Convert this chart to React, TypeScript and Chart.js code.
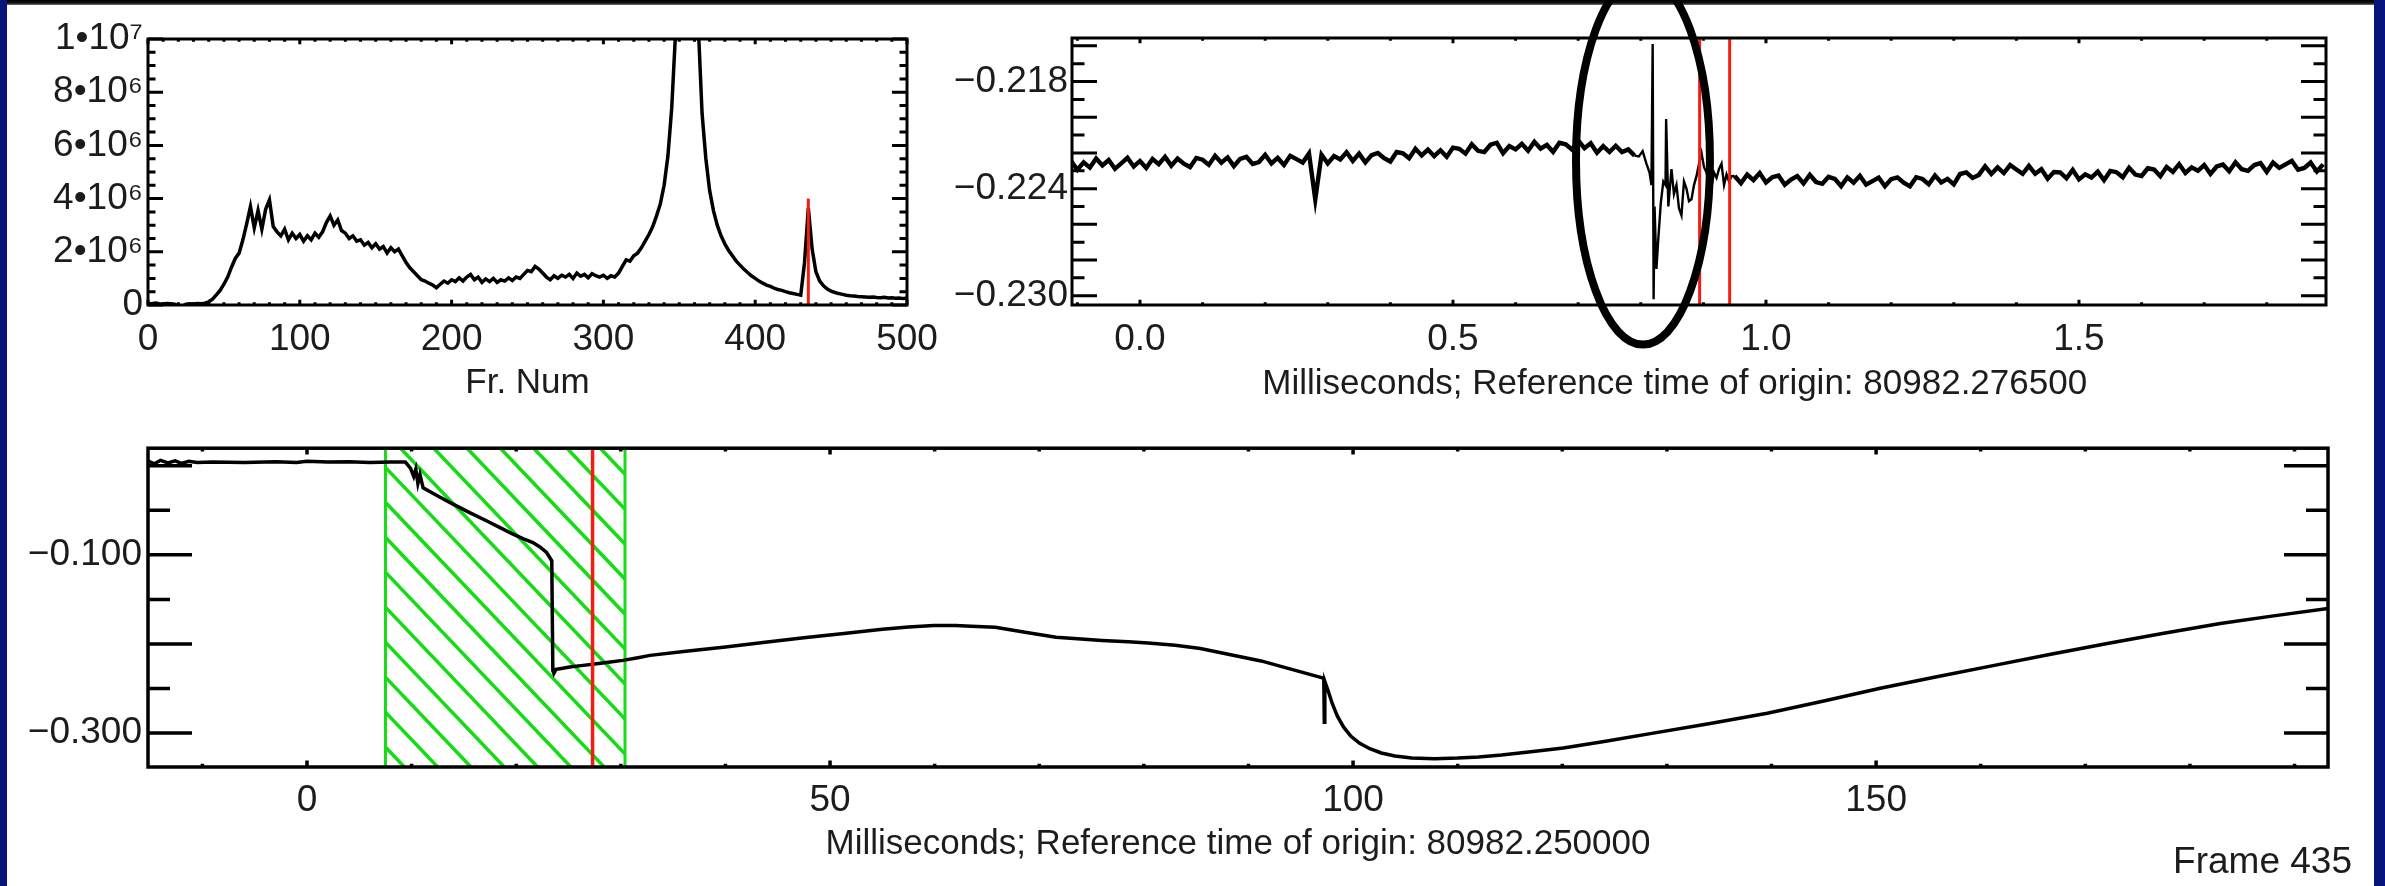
import React, { useEffect, useRef } from "react";
import { Chart, registerables } from "chart.js";

Chart.register(...registerables);

const FONT = '"Liberation Sans", Arial, Helvetica, sans-serif';
const TICK_SIZE = 37;
const TITLE_SIZE = 35;
const INK = "#1c1c1c";
const RED = "#f21d12";
const GREEN = "#16dc16";
const NAVY = "#07147a";

// ---------- Panel 1: histogram vs frame number (values in units of 1e6) ----------
const p1Start = 0;
const p1Step = 2.5;
const p1Values = [
  0.06, 0.05, 0.07, 0.05, 0.04, 0.06, 0.05, 0.03, -0.02, -0.06,
  0.03, 0.05, 0.04, 0.06, 0.05, 0.07, 0.12, 0.22, 0.38, 0.55,
  0.78, 1.05, 1.42, 1.75, 1.95, 2.45, 3.05, 3.7, 2.9, 3.55,
  2.85, 3.6, 3.95, 2.95, 2.75, 2.6, 2.85, 2.45, 2.7, 2.5,
  2.65, 2.4, 2.6, 2.45, 2.7, 2.55, 2.75, 3.1, 3.35, 3.0,
  3.2, 2.8, 2.7, 2.5, 2.6, 2.4, 2.45, 2.25, 2.35, 2.15,
  2.3, 2.1, 2.2, 1.95, 2.15, 2.0, 2.1, 1.85, 1.6, 1.4,
  1.25, 1.1, 0.95, 0.9, 0.82, 0.75, 0.65, 0.78, 0.9, 0.82,
  0.95, 0.88, 1.02, 0.9, 1.05, 1.15, 0.95, 1.05, 0.85, 0.98,
  0.88, 1.0, 0.85, 0.95, 0.9, 1.02, 0.92, 1.05, 1.0, 1.15,
  1.3, 1.25, 1.45, 1.35, 1.2, 1.05, 0.95, 1.1, 1.0, 1.12,
  1.05, 1.15, 1.0, 1.2, 1.08, 1.15, 1.02, 1.18, 1.1, 1.05,
  1.12, 1.0, 1.1, 1.05, 1.2, 1.45, 1.7, 1.65, 1.85, 1.95,
  2.15, 2.4, 2.65, 2.95, 3.35, 3.8, 4.5, 5.6, 7.4, 10.2,
  13.0, 15.5, 17.0, 16.0, 13.5, 10.5, 7.2, 5.5, 4.3, 3.55,
  3.0, 2.6, 2.3, 2.05, 1.85, 1.65, 1.5, 1.35, 1.22, 1.1,
  1.0, 0.9, 0.82, 0.75, 0.7, 0.63, 0.58, 0.55, 0.5, 0.46,
  0.43, 0.4, 0.37, 1.6, 3.65, 2.1, 1.25, 0.9, 0.72, 0.6,
  0.52, 0.47, 0.43, 0.4, 0.37, 0.35, 0.34, 0.32, 0.31, 0.3,
  0.29, 0.3, 0.28, 0.27, 0.29, 0.26, 0.27, 0.25, 0.26, 0.24,
  0.25,
];
const p1Marker = 435;
const p1MarkerTop = 4.0;
const p1XLabels = [0, 100, 200, 300, 400, 500];
const p1YLabels = [0, 2, 4, 6, 8, 10];

// ---------- Panel 2: zoomed trace (ms) ----------
const p2Step = 0.01;
const p2PreStart = -0.11;
const p2Pre = [
  -0.22245, -0.22294, -0.22253, -0.22282, -0.22231, -0.2227, -0.2224, -0.22289, -0.22258, -0.22227,
  -0.22276, -0.22245, -0.22284, -0.22234, -0.22263, -0.22222, -0.22271, -0.22231, -0.2226, -0.22279,
  -0.22228, -0.22238, -0.22267, -0.22216, -0.22255, -0.22225, -0.22274, -0.22233, -0.22222, -0.22262,
  -0.22251, -0.2221, -0.22259, -0.22228, -0.22267, -0.22216, -0.22235, -0.22254, -0.22203, -0.2246,
  -0.2221, -0.22259, -0.22218, -0.22237, -0.22196, -0.22245, -0.22204, -0.22253, -0.22212, -0.222,
  -0.22229, -0.22248, -0.22195, -0.22202, -0.2223, -0.22177, -0.22214, -0.22181, -0.22218, -0.22185,
  -0.22222, -0.2217, -0.22177, -0.22204, -0.22151, -0.22188, -0.22195, -0.22154, -0.22143, -0.22202,
  -0.22161, -0.2218, -0.22149, -0.22188, -0.22137, -0.22176, -0.22155, -0.22194, -0.22143, -0.22152,
  -0.22181, -0.2213, -0.22173, -0.22146, -0.22199, -0.22162, -0.22195, -0.2216, -0.22195, -0.2218,
  -0.22215,
];
const p2SpikeX = [
  0.797, 0.803, 0.809, 0.814, 0.817, 0.819, 0.8205, 0.822, 0.825, 0.828,
  0.832, 0.836, 0.8395, 0.8405, 0.844, 0.849, 0.853, 0.857, 0.861, 0.865,
  0.869, 0.873, 0.877, 0.881, 0.885, 0.889, 0.893, 0.897, 0.901, 0.905,
  0.909, 0.913, 0.917, 0.921, 0.925, 0.929, 0.933, 0.937, 0.941, 0.945,
];
const p2SpikeY = [
  -0.2222, -0.2219, -0.2226, -0.2231, -0.2238, -0.2159, -0.2302, -0.225, -0.2285, -0.2268,
  -0.2248, -0.2236, -0.2238, -0.2201, -0.225, -0.2229, -0.2243, -0.2238, -0.2251, -0.2255,
  -0.2236, -0.224, -0.2247, -0.2246, -0.2238, -0.2233, -0.2226, -0.222, -0.2228, -0.2231,
  -0.2236, -0.2239, -0.2231, -0.2234, -0.2229, -0.2226, -0.2238, -0.2232, -0.2236, -0.2233,
];
const p2PostStart = 0.95;
const p2Post = [
  -0.22329, -0.2237, -0.22321, -0.22352, -0.22313, -0.22365, -0.22336, -0.22327, -0.22378, -0.22349,
  -0.2233, -0.22371, -0.22322, -0.22363, -0.22373, -0.22334, -0.22345, -0.22386, -0.22337, -0.22367,
  -0.22328, -0.22378, -0.22358, -0.22338, -0.22387, -0.22347, -0.22337, -0.22367, -0.22387, -0.22336,
  -0.22346, -0.22376, -0.22326, -0.22365, -0.22345, -0.22376, -0.22318, -0.22309, -0.2234, -0.22323,
  -0.22275, -0.22318, -0.22281, -0.22313, -0.22268, -0.22293, -0.22317, -0.22272, -0.22317, -0.22291,
  -0.22344, -0.22307, -0.22309, -0.22342, -0.22295, -0.22348, -0.2232, -0.22338, -0.22305, -0.22353,
  -0.22301, -0.22308, -0.22336, -0.22283, -0.22321, -0.22329, -0.22286, -0.22293, -0.22331, -0.22278,
  -0.22306, -0.22263, -0.22312, -0.22281, -0.223, -0.22268, -0.22317, -0.22276, -0.22265, -0.22303,
  -0.22252, -0.22291, -0.223, -0.22268, -0.22257, -0.22306, -0.22254, -0.22284, -0.22264, -0.22244,
  -0.22294, -0.22284, -0.22254, -0.22304, -0.22264,
];
const p2Markers = [0.894, 0.942];
const p2XLabels = [0, 0.5, 1.0, 1.5];
const p2YLabels = [-0.218, -0.224, -0.23];
const p2EllipseCenterX = 0.8035;
const p2EllipseCenterY = -0.22242;
const p2EllipseRadiusX = 0.107;
const p2EllipseRadiusY = 0.01032;

// ---------- Panel 3: full trace (ms) ----------
const p3X = [
  -15.3, -14.6, -14.0, -13.3, -12.6, -12.0, -11.3, -10.5, -9, -6,
  -3, -1, 0, 2, 4, 6, 8, 9.4, 9.9, 10.2,
  10.4, 10.6, 10.8, 11.1, 12.5, 14.0, 15.6, 17.2, 18.5, 19.7,
  20.7, 21.6, 22.3, 22.9, 23.4, 23.5, 23.6, 23.8, 24.2, 25.1,
  26.4, 27.7, 29.0, 30.2, 31.5, 32.8, 36, 40, 43.8, 47.5,
  51.1, 55, 57.5, 59.9, 62, 63.5, 65.8, 68.5, 71.6, 74,
  76, 78.5, 80.4, 83, 85.4, 91.2, 96.9, 97.2, 97.25, 97.3,
  97.6, 98.0, 98.5, 99.1, 99.8, 100.6, 101.6, 102.7, 104, 105.6,
  107.8, 110, 112, 114.2, 117, 120.1, 124, 128.7, 134, 139.6,
  145, 150.4, 155.8, 161.3, 166.7, 172.1, 177.5, 182.9, 188, 193.2,
];
const p3Y = [
  0.006, 0.002, 0.006, 0.003, 0.0055, 0.0025, 0.005, 0.0035, 0.004, 0.0035,
  0.0045, 0.0035, 0.005, 0.004, 0.0045, 0.0035, 0.004, 0.004, -0.003, -0.012,
  -0.004, -0.02, -0.01, -0.0248, -0.034, -0.0434, -0.053, -0.062, -0.0698, -0.0769,
  -0.082, -0.0863, -0.0915, -0.0974, -0.1067, -0.2296, -0.233, -0.2285, -0.2277, -0.2259,
  -0.224, -0.2221, -0.2203, -0.2184, -0.2157, -0.2128, -0.2085, -0.2035, -0.198, -0.193,
  -0.1886, -0.1835, -0.181, -0.1793, -0.1793, -0.18, -0.1812, -0.1865, -0.1924, -0.1945,
  -0.196, -0.1975, -0.1988, -0.2015, -0.205, -0.219, -0.2374, -0.2385, -0.2877, -0.242,
  -0.252, -0.2665, -0.281, -0.2933, -0.3035, -0.3112, -0.3175, -0.3223, -0.3257, -0.328,
  -0.3287, -0.328, -0.3267, -0.3246, -0.321, -0.3168, -0.3095, -0.3, -0.2895, -0.2777,
  -0.264, -0.2497, -0.2368, -0.224, -0.2115, -0.1994, -0.188, -0.1771, -0.1685, -0.1603,
];
const p3HatchStart = 7.5;
const p3HatchEnd = 30.4;
const p3Marker = 27.3;
const p3XLabels = [0, 50, 100, 150];
const p3YLabels = [-0.1, -0.3];

// ---------- helpers ----------
function steps(start: number, end: number, step: number): number[] {
  const out: number[] = [];
  const n = Math.round((end - start) / step);
  for (let i = 0; i <= n; i++) out.push(+(start + i * step).toFixed(6));
  return out;
}

function minus(v: number, digits: number): string {
  return (v < 0 ? "\u2212" : "") + Math.abs(v).toFixed(digits);
}

type FrameSpec = {
  xMajor: number[];
  xMinor: number[];
  yMajor: number[];
  yMinor: number[];
  xLen: number;
  yLen: number;
  width: number;
};

function framePlugin(o: FrameSpec) {
  return {
    id: "idlFrame",
    afterDatasetsDraw(chart: any) {
      const { ctx, chartArea: a } = chart;
      const xs = chart.scales.x;
      const ys = chart.scales.y;
      ctx.save();
      ctx.strokeStyle = "#000";
      ctx.lineWidth = o.width;
      ctx.lineCap = "butt";
      ctx.beginPath();
      const xt = (v: number, len: number) => {
        const p = xs.getPixelForValue(v);
        if (p < a.left - 1 || p > a.right + 1) return;
        ctx.moveTo(p, a.bottom);
        ctx.lineTo(p, a.bottom - len);
        ctx.moveTo(p, a.top);
        ctx.lineTo(p, a.top + len);
      };
      const yt = (v: number, len: number) => {
        const p = ys.getPixelForValue(v);
        if (p < a.top - 1 || p > a.bottom + 1) return;
        ctx.moveTo(a.left, p);
        ctx.lineTo(a.left + len, p);
        ctx.moveTo(a.right, p);
        ctx.lineTo(a.right - len, p);
      };
      o.xMajor.forEach((v) => xt(v, o.xLen));
      o.xMinor.forEach((v) => xt(v, o.xLen / 2));
      o.yMajor.forEach((v) => yt(v, o.yLen));
      o.yMinor.forEach((v) => yt(v, o.yLen / 2));
      ctx.stroke();
      ctx.strokeRect(a.left, a.top, a.right - a.left, a.bottom - a.top);
      ctx.restore();
    },
  };
}

type AxisSpec = {
  xMin: number;
  xMax: number;
  yMin: number;
  yMax: number;
  xLabels: number[];
  yLabels: number[];
  xFmt: (v: number) => string;
  yFmt: (v: number) => string;
  yWidth: number;
  xHeight: number;
  padTop: number;
  padRight: number;
  title: string;
  titlePad: number;
  xLabelPad: number;
  yLabelPad: number;
};

function baseOptions(p: AxisSpec): any {
  const tickFont = { family: FONT, size: TICK_SIZE };
  const titleFont = { family: FONT, size: TITLE_SIZE };
  return {
    responsive: false,
    animation: false,
    events: [],
    devicePixelRatio: 1,
    layout: {
      autoPadding: false,
      padding: { top: p.padTop, right: p.padRight, left: 0, bottom: 0 },
    },
    plugins: { legend: { display: false }, tooltip: { enabled: false } },
    elements: { point: { radius: 0 }, line: { tension: 0 } },
    scales: {
      x: {
        type: "linear",
        min: p.xMin,
        max: p.xMax,
        bounds: "data",
        grid: { display: false, drawTicks: false },
        border: { display: false },
        ticks: {
          autoSkip: false,
          maxRotation: 0,
          minRotation: 0,
          padding: p.xLabelPad,
          color: INK,
          font: tickFont,
          callback: (v: number) => p.xFmt(Number(v)),
        },
        afterBuildTicks: (s: any) => {
          s.ticks = p.xLabels.map((v) => ({ value: v }));
        },
        afterFit: (s: any) => {
          s.height = p.xHeight;
        },
        title: {
          display: true,
          text: p.title,
          color: INK,
          font: titleFont,
          padding: { top: 0, bottom: p.titlePad },
        },
      },
      y: {
        type: "linear",
        min: p.yMin,
        max: p.yMax,
        bounds: "data",
        grid: { display: false, drawTicks: false },
        border: { display: false },
        ticks: {
          autoSkip: false,
          padding: p.yLabelPad,
          color: INK,
          font: tickFont,
          callback: (v: number) => p.yFmt(Number(v)),
        },
        afterBuildTicks: (s: any) => {
          s.ticks = p.yLabels.map((v) => ({ value: v }));
        },
        afterFit: (s: any) => {
          s.width = p.yWidth;
        },
      },
    },
  };
}

// ---------- Panel builders ----------
function makePanel1(): any {
  const data = p1Values.map((v, i) => ({ x: p1Start + i * p1Step, y: v }));
  const opts = baseOptions({
    xMin: 0,
    xMax: 500,
    yMin: 0,
    yMax: 10,
    xLabels: p1XLabels,
    yLabels: p1YLabels,
    xFmt: (v) => String(v),
    yFmt: (v) => (v === 0 ? "0" : v === 10 ? "1\u202210\u2077" : `${v}\u202210\u2076`),
    yWidth: 148,
    xHeight: 115,
    padTop: 39,
    padRight: 83,
    title: "Fr. Num",
    titlePad: 15.5,
    xLabelPad: 13,
    yLabelPad: 5,
  });
  return {
    type: "line",
    data: {
      datasets: [
        {
          data: [
            { x: p1Marker, y: 0 },
            { x: p1Marker, y: p1MarkerTop },
          ],
          borderColor: RED,
          borderWidth: 3,
          pointRadius: 0,
        },
        { data, borderColor: "#000", borderWidth: 3.5, pointRadius: 0 },
      ],
    },
    options: opts,
    plugins: [
      framePlugin({
        xMajor: steps(0, 500, 100),
        xMinor: steps(0, 500, 10),
        yMajor: steps(0, 10, 2),
        yMinor: steps(0, 10, 0.5),
        xLen: 5.3,
        yLen: 15,
        width: 3,
      }),
    ],
  };
}

function makePanel2(): any {
  const yMin = -0.23052;
  const yMax = -0.21556;
  const pre = p2Pre.map((v, i) => ({ x: +(p2PreStart + i * p2Step).toFixed(4), y: v }));
  const post = p2Post.map((v, i) => ({ x: +(p2PostStart + i * p2Step).toFixed(4), y: v }));
  const spike = [
    pre[pre.length - 1],
    ...p2SpikeX.map((x, i) => ({ x, y: p2SpikeY[i] })),
    post[0],
  ];
  const opts = baseOptions({
    xMin: -0.1086,
    xMax: 1.8946,
    yMin,
    yMax,
    xLabels: p2XLabels,
    yLabels: p2YLabels,
    xFmt: (v) => v.toFixed(1),
    yFmt: (v) => minus(v, 3),
    yWidth: 142,
    xHeight: 115,
    padTop: 38,
    padRight: 59,
    title: "Milliseconds; Reference time of origin: 80982.276500\u00a0\u00a0\u00a0\u00a0\u00a0",
    titlePad: 14.3,
    xLabelPad: 13,
    yLabelPad: 4,
  });
  const ellipsePlugin = {
    id: "ellipseMark",
    afterDraw(chart: any) {
      const { ctx } = chart;
      const xs = chart.scales.x;
      const ys = chart.scales.y;
      const cx = xs.getPixelForValue(p2EllipseCenterX);
      const cy = ys.getPixelForValue(p2EllipseCenterY);
      const rx = Math.abs(xs.getPixelForValue(p2EllipseCenterX + p2EllipseRadiusX) - cx);
      const ry = Math.abs(ys.getPixelForValue(p2EllipseCenterY + p2EllipseRadiusY) - cy);
      ctx.save();
      ctx.beginPath();
      ctx.ellipse(cx, cy, rx, ry, 0, 0, Math.PI * 2);
      ctx.lineWidth = 8;
      ctx.strokeStyle = "#000";
      ctx.stroke();
      ctx.restore();
    },
  };
  return {
    type: "line",
    data: {
      datasets: [
        ...p2Markers.map((m) => ({
          data: [
            { x: m, y: yMin },
            { x: m, y: yMax },
          ],
          borderColor: RED,
          borderWidth: 3,
          pointRadius: 0,
        })),
        { data: spike, borderColor: "#000", borderWidth: 2.4, pointRadius: 0 },
        { data: pre, borderColor: "#000", borderWidth: 4.4, pointRadius: 0 },
        { data: post, borderColor: "#000", borderWidth: 4.4, pointRadius: 0 },
      ],
    },
    options: opts,
    plugins: [
      framePlugin({
        xMajor: steps(0, 1.5, 0.5),
        xMinor: steps(-0.1, 1.8, 0.1),
        yMajor: steps(-0.23, -0.216, 0.002),
        yMinor: steps(-0.23, -0.216, 0.001),
        xLen: 5.3,
        yLen: 25,
        width: 3,
      }),
      ellipsePlugin,
    ],
  };
}

function makePanel3(): any {
  const yMin = -0.338;
  const yMax = 0.0196;
  const data = p3X.map((x, i) => ({ x, y: p3Y[i] }));
  const opts = baseOptions({
    xMin: -15.2,
    xMax: 193.2,
    yMin,
    yMax,
    xLabels: p3XLabels,
    yLabels: p3YLabels,
    xFmt: (v) => String(v),
    yFmt: (v) => minus(v, 3),
    yWidth: 148,
    xHeight: 119,
    padTop: 27,
    padRight: 57,
    title: "Milliseconds; Reference time of origin: 80982.250000",
    titlePad: 21,
    xLabelPad: 12,
    yLabelPad: 6,
  });
  const hatchPlugin = {
    id: "hatch",
    beforeDatasetsDraw(chart: any) {
      const { ctx, chartArea: a } = chart;
      const xs = chart.scales.x;
      const x0 = xs.getPixelForValue(p3HatchStart);
      const x1 = xs.getPixelForValue(p3HatchEnd);
      const h = a.bottom - a.top;
      const slope = 1.05;
      const spacing = 33.3;
      ctx.save();
      ctx.beginPath();
      ctx.rect(x0, a.top, x1 - x0, h);
      ctx.clip();
      ctx.strokeStyle = GREEN;
      ctx.lineWidth = 3.5;
      ctx.beginPath();
      const phase = x0 + 15;
      const kStart = -Math.ceil(h / slope / spacing) - 1;
      for (let k = kStart; phase + k * spacing < x1 + spacing; k++) {
        const s = phase + k * spacing;
        ctx.moveTo(s, a.top);
        ctx.lineTo(s + h / slope, a.bottom);
      }
      ctx.stroke();
      ctx.restore();
      ctx.save();
      ctx.strokeStyle = GREEN;
      ctx.lineWidth = 3;
      ctx.beginPath();
      ctx.moveTo(x0, a.top);
      ctx.lineTo(x0, a.bottom);
      ctx.moveTo(x1, a.top);
      ctx.lineTo(x1, a.bottom);
      ctx.stroke();
      ctx.restore();
    },
  };
  return {
    type: "line",
    data: {
      datasets: [
        {
          data: [
            { x: p3Marker, y: yMin },
            { x: p3Marker, y: yMax },
          ],
          borderColor: RED,
          borderWidth: 3.5,
          pointRadius: 0,
        },
        { data, borderColor: "#000", borderWidth: 3.5, pointRadius: 0 },
      ],
    },
    options: opts,
    plugins: [
      hatchPlugin,
      framePlugin({
        xMajor: steps(0, 150, 50),
        xMinor: steps(-10, 190, 10),
        yMajor: steps(-0.3, 0, 0.1),
        yMinor: steps(-0.35, 0, 0.05),
        xLen: 6.4,
        yLen: 44,
        width: 3.5,
      }),
    ],
  };
}

function ChartCanvas(props: { left: number; top: number; width: number; height: number; make: () => any }) {
  const ref = useRef<HTMLCanvasElement | null>(null);
  useEffect(() => {
    if (!ref.current) return;
    const chart = new Chart(ref.current, props.make());
    return () => chart.destroy();
  }, []);
  return (
    <canvas
      ref={ref}
      width={props.width}
      height={props.height}
      style={{ position: "absolute", left: props.left, top: props.top, width: props.width, height: props.height }}
    />
  );
}

export default function App() {
  return (
    <div
      style={{
        position: "absolute",
        left: 0,
        top: 0,
        width: 2385,
        height: 886,
        background: NAVY,
        overflow: "hidden",
      }}
    >
      <div style={{ position: "absolute", left: 7, top: 0, width: 2367, height: 886, background: "#ffffff" }} />
      <div
        style={{
          position: "absolute",
          left: 7,
          top: 0,
          width: 2367,
          height: 5,
          background: "linear-gradient(180deg, #000 0%, #111 60%, #777 100%)",
        }}
      />
      <ChartCanvas left={0} top={0} width={990} height={420} make={makePanel1} />
      <ChartCanvas left={930} top={0} width={1455} height={420} make={makePanel2} />
      <ChartCanvas left={0} top={420} width={2385} height={466} make={makePanel3} />
      <div
        style={{
          position: "absolute",
          right: 2385 - 2352,
          top: 842,
          fontFamily: FONT,
          fontSize: 37,
          lineHeight: "37px",
          color: INK,
          whiteSpace: "nowrap",
        }}
      >
        Frame 435
      </div>
    </div>
  );
}
